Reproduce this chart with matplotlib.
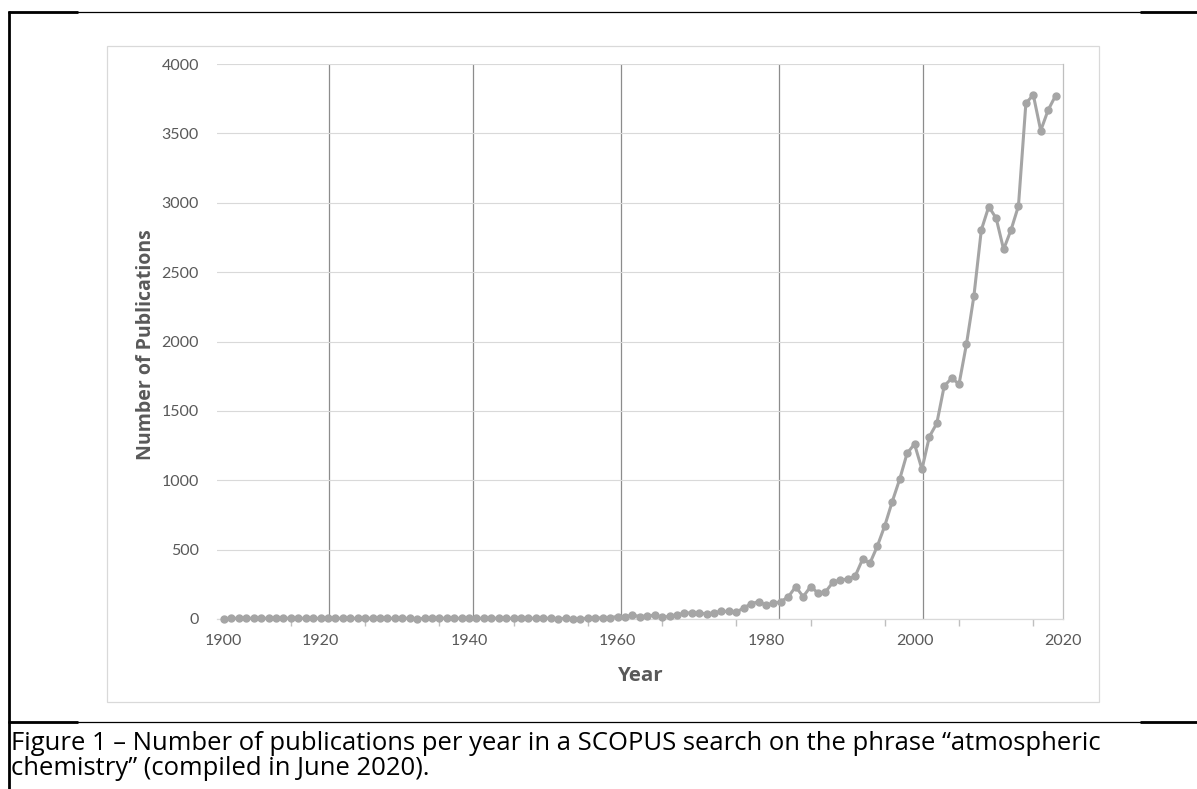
import matplotlib
matplotlib.use("Agg")
import matplotlib.pyplot as plt
from matplotlib.lines import Line2D
from matplotlib.patches import Rectangle

plt.rcParams['font.family'] = ['Lato', 'DejaVu Sans']

# ---- data ----
years = list(range(1907, 2020))
pubs = [
    # 1907-1930
    2, 5, 5, 4, 6, 5, 5, 4, 5, 6, 5, 5, 4, 5, 6, 5, 5, 4, 5, 5, 6, 5, 5, 4,
    # 1931-1959
    5, 5, 0, 5, 5, 6, 5, 5, 5, 4, 5, 5, 6, 5, 5, 4, 5, 5, 5, 6, 5, 2, 5, 0, 2, 6, 8, 8, 10,
    # 1960-1983
    18, 15, 28, 18, 22, 28, 12, 20, 30, 42, 45, 45, 36, 45, 55, 55, 50, 80, 110, 125, 100, 113, 125, 160,
    # 1984-2001
    233, 161, 233, 188, 195, 264, 281, 288, 308, 430, 403, 526, 673, 846, 1007, 1194, 1261, 1079,
    # 2002-2019
    1314, 1410, 1679, 1735, 1694, 1982, 2328, 2804, 2972, 2888, 2664, 2804, 2977, 3717, 3777, 3520, 3668, 3772,
]
y_ticks = [0, 500, 1000, 1500, 2000, 2500, 3000, 3500, 4000]
x_label_pos = [1906.9, 1920, 1940, 1960, 1980, 2000, 2020]
x_labels = ['1900', '1920', '1940', '1960', '1980', '2000', '2020']
x_minor = [1916, 1926, 1936, 1946, 1956, 1966, 1976, 1986, 1996, 2006, 2016]
v_lines = [1921.1, 1940.5, 1960.5, 1981.8, 2001.2]
caption_lines = ["Figure 1 \u2013 Number of publications per year in a SCOPUS search on the phrase \u201catmospheric",
                 "chemistry\u201d (compiled in June 2020)."]

W, H = 1197, 789
fig = plt.figure(figsize=(W / 100, H / 100), dpi=100)

def fx(x):
    return x / W

def fy(y):
    return 1 - y / H

ax = fig.add_axes([fx(217), fy(619), fx(1063) - fx(217), fy(64) - fy(619)])
ax.set_xlim(1906.05, 2020)
ax.set_ylim(0, 4000)

gray_txt = '#595959'
ax.set_yticks(y_ticks)
ax.set_yticklabels([str(v) for v in y_ticks])
ax.set_xticks(x_label_pos)
ax.set_xticklabels(x_labels)
ax.set_xticks(x_minor, minor=True)
ax.tick_params(axis='both', which='major', length=0, labelsize=11.5, colors=gray_txt)
ax.tick_params(axis='y', pad=13)
ax.tick_params(axis='x', pad=11)
ax.tick_params(axis='x', which='minor', length=5, width=1, color='#bfbfbf', direction='out')

ax.grid(axis='y', color='#d9d9d9', linewidth=0.8)
for v in v_lines:
    ax.axvline(v, color='#8c8c8c', linewidth=0.9, zorder=1)

for side in ['left', 'top']:
    ax.spines[side].set_visible(False)
ax.spines['bottom'].set_color('#d9d9d9')
ax.spines['bottom'].set_linewidth(0.9)
ax.spines['right'].set_color('#bfbfbf')
ax.spines['right'].set_linewidth(0.9)

ax.plot(years, pubs, color='#a5a5a5', linewidth=2.2, marker='o', markersize=5,
        markerfacecolor='#a5a5a5', markeredgecolor='#a5a5a5', zorder=3, clip_on=False)

fig.canvas.draw()
r = fig.canvas.get_renderer()

def fit(t, target, horizontal=True):
    bb = t.get_window_extent(r)
    cur = bb.width if horizontal else bb.height
    t.set_fontsize(t.get_fontsize() * target / cur)

# axis titles
ty = fig.text(fx(641), fy(676), 'Year', ha='center', va='center', fontsize=14,
              fontweight='bold', color=gray_txt, family=['Open Sans', 'DejaVu Sans'])
fit(ty, 46)
tyl = fig.text(fx(146), fy(345), 'Number of Publications', ha='center', va='center', fontsize=14,
               fontweight='bold', color=gray_txt, rotation=90, family=['Open Sans', 'DejaVu Sans'])
fit(tyl, 232, horizontal=False)

# chart area box
fig.patches.append(Rectangle((fx(107), fy(702)), fx(1099) - fx(107), fy(46) - fy(702),
                             transform=fig.transFigure, fill=False, edgecolor='#d9d9d9',
                             linewidth=0.9))

# outer document borders
def hline(x0, x1, y, lw):
    fig.add_artist(Line2D([fx(x0), fx(x1)], [fy(y), fy(y)], transform=fig.transFigure,
                          color='black', linewidth=lw, solid_capstyle='butt'))

hline(8, 1197, 12, 0.9)
hline(8, 78, 12, 2.0)
hline(1140, 1197, 12, 2.0)
hline(8, 1197, 722, 0.9)
hline(8, 78, 722, 2.0)
hline(1140, 1197, 722, 2.0)
fig.add_artist(Line2D([fx(8.5), fx(8.5)], [fy(11), fy(789)], transform=fig.transFigure,
                      color='black', linewidth=2.0, solid_capstyle='butt'))

# caption: fit width of first line, then set line spacing to ~24 px
cap_font = ['Open Sans', 'DejaVu Sans']
probe = fig.text(0, 0, caption_lines[0], fontsize=14, family=cap_font)
fit(probe, 1095)
fs = probe.get_fontsize()
h1 = probe.get_window_extent(r).height
probe.remove()

cap = fig.text(fx(11), fy(731), "\n".join(caption_lines), ha='left', va='top',
               fontsize=fs, color='black', family=cap_font, linespacing=1.2)
h2 = cap.get_window_extent(r).height
ls = 1.2 * 24.5 / (h2 - h1)
cap.set_linespacing(ls)

fig.savefig('out.png', dpi=100)
